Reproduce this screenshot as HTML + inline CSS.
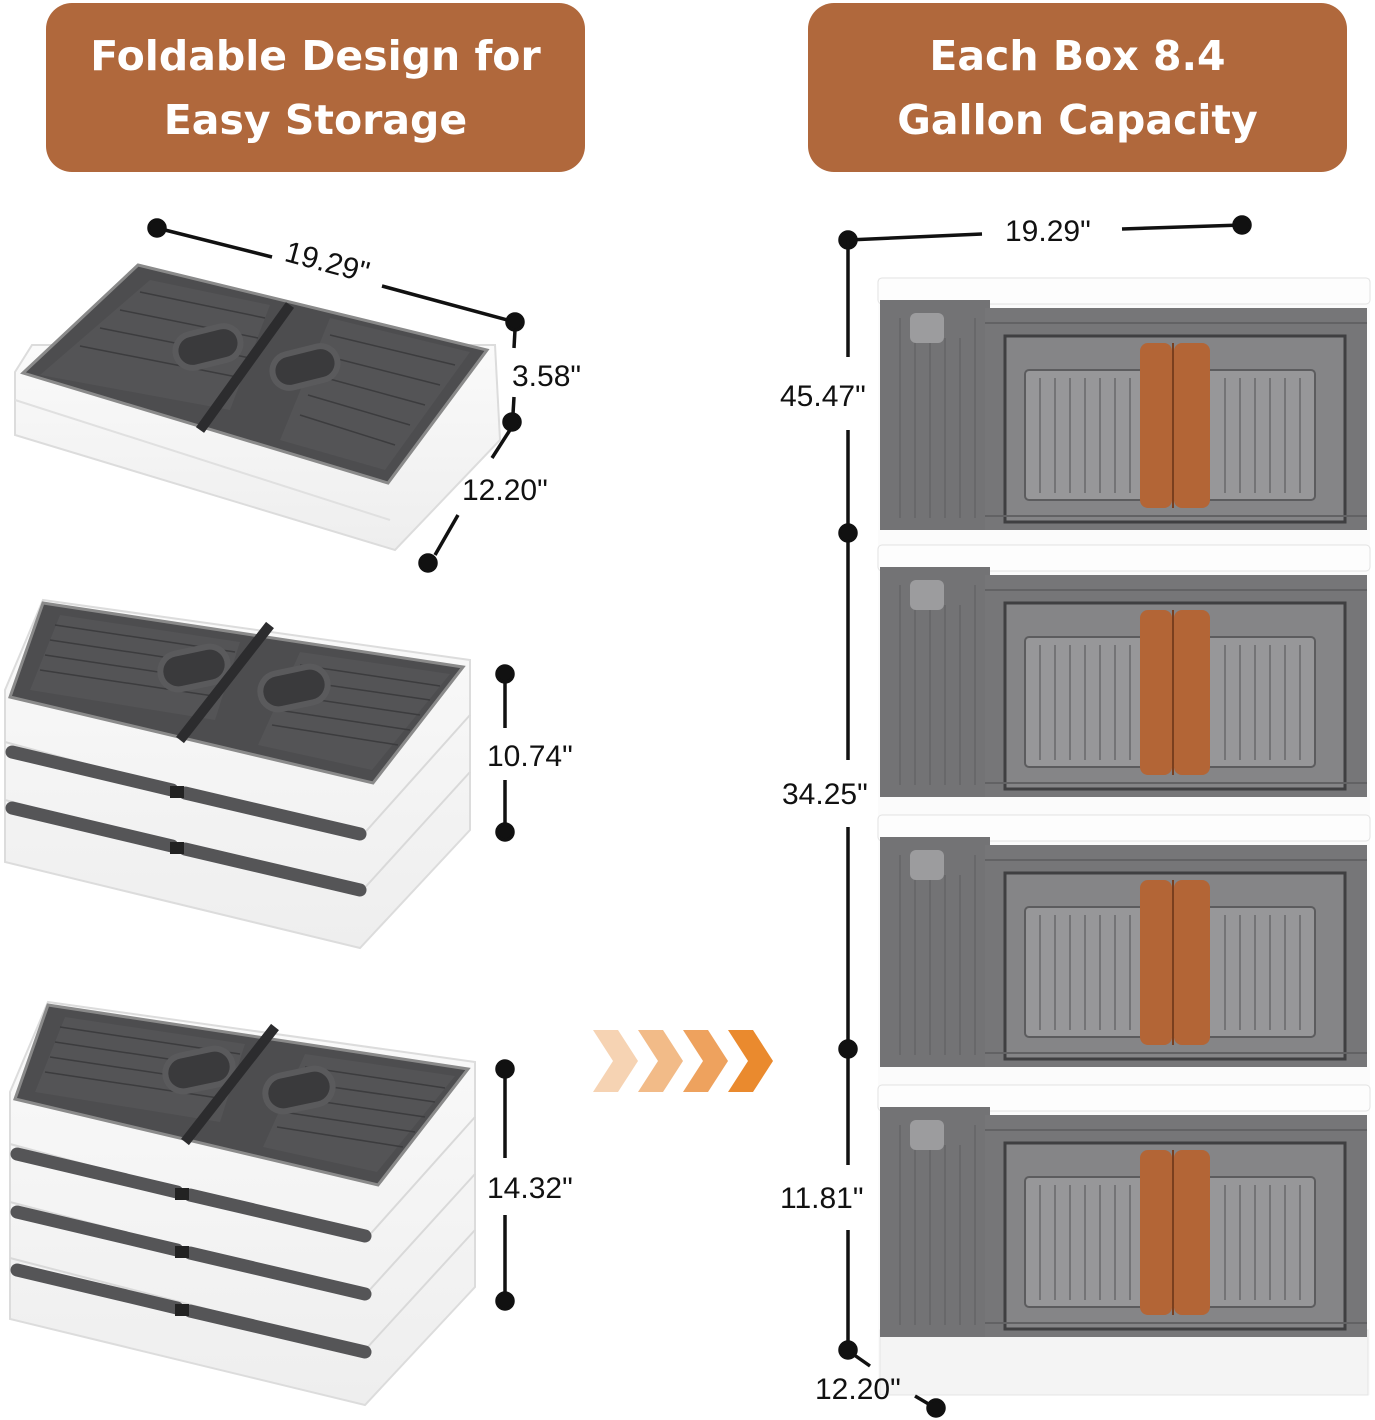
<!DOCTYPE html>
<html><head><meta charset="utf-8"><style>
html,body{margin:0;padding:0;background:#fff;}
body{width:1375px;height:1420px;overflow:hidden;position:relative;font-family:"Liberation Sans","DejaVu Sans",sans-serif;}
.ban{position:absolute;top:3px;width:539px;height:169px;background:#b0683c;border-radius:26px;color:#fff;font-family:"DejaVu Sans","Liberation Sans",sans-serif;font-weight:bold;font-size:41px;line-height:64px;text-align:center;display:flex;align-items:center;justify-content:center;}
svg{position:absolute;left:0;top:0;}
</style></head><body>
<div class="ban" style="left:46px">Foldable Design for<br>Easy Storage</div>
<div class="ban" style="left:808px">Each Box 8.4<br>Gallon Capacity</div>
<svg width="1375" height="1420" viewBox="0 0 1375 1420" xmlns="http://www.w3.org/2000/svg" font-family="Liberation Sans, DejaVu Sans, sans-serif">
<defs>
 <linearGradient id="wg" x1="0" y1="0" x2="0" y2="1"><stop offset="0" stop-color="#fafafa"/><stop offset="1" stop-color="#eeeeee"/></linearGradient>
 <g id="lid">
  <polygon points="43,603 463,667 373,783 10,697" fill="#4d4d4f" stroke="#8a8a8a" stroke-width="3"/>
  <polygon points="60,615 240,642 215,720 30,690" fill="#545456"/>
  <polygon points="300,652 450,674 372,770 258,745" fill="#545456"/>
  <g stroke="#3c3c3e" stroke-width="1.5">
   <line x1="55" y1="625" x2="235" y2="652"/><line x1="50" y1="640" x2="230" y2="667"/><line x1="45" y1="655" x2="225" y2="682"/><line x1="40" y1="670" x2="220" y2="697"/>
   <line x1="300" y1="665" x2="440" y2="686"/><line x1="292" y1="680" x2="430" y2="700"/><line x1="285" y1="695" x2="420" y2="715"/><line x1="278" y1="710" x2="410" y2="730"/><line x1="272" y1="725" x2="398" y2="745"/>
  </g>
  <rect x="160" y="650" width="68" height="36" rx="18" fill="#3a3a3c" stroke="#5a5a5c" stroke-width="6" transform="rotate(-12 194 668)"/>
  <rect x="260" y="670" width="68" height="36" rx="18" fill="#3a3a3c" stroke="#5a5a5c" stroke-width="6" transform="rotate(-12 294 688)"/>
  <line x1="270" y1="625" x2="180" y2="740" stroke="#2c2c2e" stroke-width="10"/>
 </g>
 <g id="strip">
  <line x1="12" y1="752" x2="172" y2="790" stroke="#555557" stroke-width="13" stroke-linecap="round"/>
  <line x1="185" y1="793" x2="360" y2="834" stroke="#555557" stroke-width="13" stroke-linecap="round"/>
  <rect x="170" y="786" width="14" height="12" fill="#222"/>
 </g>
 <g id="rbox">
  <rect x="878" y="0" width="492" height="26" rx="4" fill="#fdfdfd" stroke="#e2e2e2"/>
  <rect x="880" y="22" width="110" height="230" fill="#737375"/>
  <rect x="985" y="30" width="382" height="222" fill="#767678"/>
  <g stroke="#5e5e60" stroke-width="1"><line x1="900" y1="40" x2="900" y2="240"/><line x1="915" y1="40" x2="915" y2="240"/><line x1="930" y1="60" x2="930" y2="240"/><line x1="945" y1="60" x2="945" y2="240"/><line x1="960" y1="60" x2="960" y2="240"/><line x1="975" y1="40" x2="975" y2="240"/></g>
  <rect x="910" y="35" width="34" height="30" rx="6" fill="#9c9c9e"/>
  <rect x="1005" y="58" width="340" height="186" fill="#858587" stroke="#3f3f41" stroke-width="3"/>
  <rect x="1025" y="92" width="290" height="130" rx="4" fill="#979799" stroke="#5c5c5e" stroke-width="2"/>
  <g stroke="#747476" stroke-width="2"><line x1="1040" y1="100" x2="1040" y2="215"/><line x1="1055" y1="100" x2="1055" y2="215"/><line x1="1070" y1="100" x2="1070" y2="215"/><line x1="1085" y1="100" x2="1085" y2="215"/><line x1="1100" y1="100" x2="1100" y2="215"/><line x1="1115" y1="100" x2="1115" y2="215"/><line x1="1130" y1="100" x2="1130" y2="215"/><line x1="1225" y1="100" x2="1225" y2="215"/><line x1="1240" y1="100" x2="1240" y2="215"/><line x1="1255" y1="100" x2="1255" y2="215"/><line x1="1270" y1="100" x2="1270" y2="215"/><line x1="1285" y1="100" x2="1285" y2="215"/><line x1="1300" y1="100" x2="1300" y2="215"/></g>
  <line x1="985" y1="45" x2="1367" y2="45" stroke="#626264" stroke-width="2"/>
  <line x1="985" y1="238" x2="1367" y2="238" stroke="#626264" stroke-width="2"/>
  <rect x="1140" y="65" width="32" height="165" rx="8" fill="#b36536"/>
  <rect x="1174" y="65" width="36" height="165" rx="8" fill="#b36536"/>
  <line x1="1173" y1="65" x2="1173" y2="230" stroke="#7a3f1e" stroke-width="2"/>
 </g>
</defs>

<!-- left top box -->
<polygon points="15,372 32,345 495,345 500,440 395,550 15,435" fill="url(#wg)" stroke="#dcdcdc" stroke-width="2"/>
<line x1="15" y1="400" x2="390" y2="520" stroke="#e0e0e0" stroke-width="2"/>
<polygon points="138,265 487,350 388,483 23,373" fill="#4d4d4f" stroke="#8a8a8a" stroke-width="3"/>
<polygon points="150,280 270,305 230,410 40,375" fill="#545456"/>
<polygon points="330,318 470,352 385,470 280,440" fill="#545456"/>
<g stroke="#3c3c3e" stroke-width="1.5">
 <line x1="140" y1="292" x2="265" y2="318"/><line x1="120" y1="310" x2="258" y2="338"/><line x1="100" y1="328" x2="250" y2="358"/><line x1="80" y1="346" x2="242" y2="378"/>
 <line x1="330" y1="335" x2="455" y2="365"/><line x1="322" y1="355" x2="440" y2="385"/><line x1="315" y1="375" x2="425" y2="405"/><line x1="308" y1="395" x2="410" y2="425"/><line x1="300" y1="415" x2="395" y2="445"/>
</g>
<rect x="175" y="330" width="66" height="34" rx="17" fill="#3a3a3c" stroke="#5a5a5c" stroke-width="6" transform="rotate(-14 208 347)"/>
<rect x="272" y="350" width="66" height="34" rx="17" fill="#3a3a3c" stroke="#5a5a5c" stroke-width="6" transform="rotate(-14 305 367)"/>
<line x1="290" y1="305" x2="200" y2="430" stroke="#2c2c2e" stroke-width="10"/>

<!-- middle stack -->
<polygon points="5,690 43,600 470,660 470,830 360,948 5,862" fill="url(#wg)" stroke="#dcdcdc" stroke-width="2"/>
<g stroke="#d9d9d9" stroke-width="2" fill="none"><polyline points="5,742 360,838 470,715"/><polyline points="5,800 360,893 470,772"/></g>
<use href="#lid"/>
<use href="#strip"/>
<use href="#strip" transform="translate(0,56)"/>

<!-- bottom stack -->
<g transform="translate(5,402)">
<polygon points="5,690 43,600 470,660 470,885 360,1003 5,917" fill="url(#wg)" stroke="#dcdcdc" stroke-width="2"/>
<g stroke="#d9d9d9" stroke-width="2" fill="none"><polyline points="5,742 360,838 470,715"/><polyline points="5,800 360,893 470,772"/><polyline points="5,856 360,948 470,828"/></g>
<use href="#lid"/>
<use href="#strip"/>
<use href="#strip" transform="translate(0,58)"/>
<use href="#strip" transform="translate(0,116)"/>
</g>

<!-- left dimensions -->
<g stroke="#111" stroke-width="3.5" fill="#111">
 <line x1="157" y1="228" x2="272" y2="257"/><line x1="382" y1="286" x2="515" y2="322"/>
 <circle cx="157" cy="228" r="8"/><circle cx="515" cy="322" r="8"/>
 <line x1="515" y1="330" x2="514" y2="348"/><line x1="514" y1="397" x2="513" y2="414"/>
 <circle cx="512" cy="422" r="8"/>
 <line x1="510" y1="430" x2="492" y2="458"/><line x1="458" y1="515" x2="435" y2="555"/>
 <circle cx="428" cy="563" r="8"/>
 <line x1="505" y1="674" x2="505" y2="728"/><line x1="505" y1="780" x2="505" y2="832"/>
 <circle cx="505" cy="674" r="8"/><circle cx="505" cy="832" r="8"/>
 <line x1="505" y1="1069" x2="505" y2="1158"/><line x1="505" y1="1215" x2="505" y2="1301"/>
 <circle cx="505" cy="1069" r="8"/><circle cx="505" cy="1301" r="8"/>
</g>
<g font-size="30" fill="#111">
 <text x="283" y="273" transform="rotate(15 330 268)">19.29"</text>
 <text x="512" y="386">3.58"</text>
 <text x="462" y="500">12.20"</text>
 <text x="487" y="766">10.74"</text>
 <text x="487" y="1198">14.32"</text>
</g>

<!-- chevrons -->
<g>
 <polygon points="593,1030 618,1030 638,1061 618,1092 593,1092 613,1061" fill="#f6d3b3"/>
 <polygon points="638,1030 663,1030 683,1061 663,1092 638,1092 658,1061" fill="#f2bb88"/>
 <polygon points="683,1030 708,1030 728,1061 708,1092 683,1092 703,1061" fill="#eea25e"/>
 <polygon points="728,1030 753,1030 773,1061 753,1092 728,1092 748,1061" fill="#ea8a2e"/>
</g>

<!-- right stack -->
<rect x="878" y="278" width="492" height="1117" fill="#fbfbfb"/>
<rect x="880" y="1330" width="488" height="65" fill="#f4f4f4" stroke="#e4e4e4"/>
<use href="#rbox" transform="translate(0,278)"/>
<use href="#rbox" transform="translate(0,545)"/>
<use href="#rbox" transform="translate(0,815)"/>
<use href="#rbox" transform="translate(0,1085)"/>

<!-- right dimensions -->
<g stroke="#111" stroke-width="3.5" fill="#111">
 <line x1="848" y1="240" x2="982" y2="234"/><line x1="1122" y1="229" x2="1242" y2="225"/>
 <circle cx="848" cy="240" r="8"/><circle cx="1242" cy="225" r="8"/>
 <line x1="848" y1="240" x2="848" y2="357"/><line x1="848" y1="430" x2="848" y2="760"/>
 <line x1="848" y1="827" x2="848" y2="1165"/><line x1="848" y1="1230" x2="848" y2="1350"/>
 <circle cx="848" cy="533" r="8"/><circle cx="848" cy="1049" r="8"/><circle cx="848" cy="1350" r="8"/>
 <line x1="850" y1="1352" x2="870" y2="1366"/><line x1="915" y1="1396" x2="932" y2="1406"/>
 <circle cx="936" cy="1408" r="8"/>
</g>
<g font-size="30" fill="#111">
 <text x="1005" y="241">19.29"</text>
 <text x="780" y="406">45.47"</text>
 <text x="782" y="804">34.25"</text>
 <text x="780" y="1208">11.81"</text>
 <text x="815" y="1399">12.20"</text>
</g>
</svg>
</body></html>
